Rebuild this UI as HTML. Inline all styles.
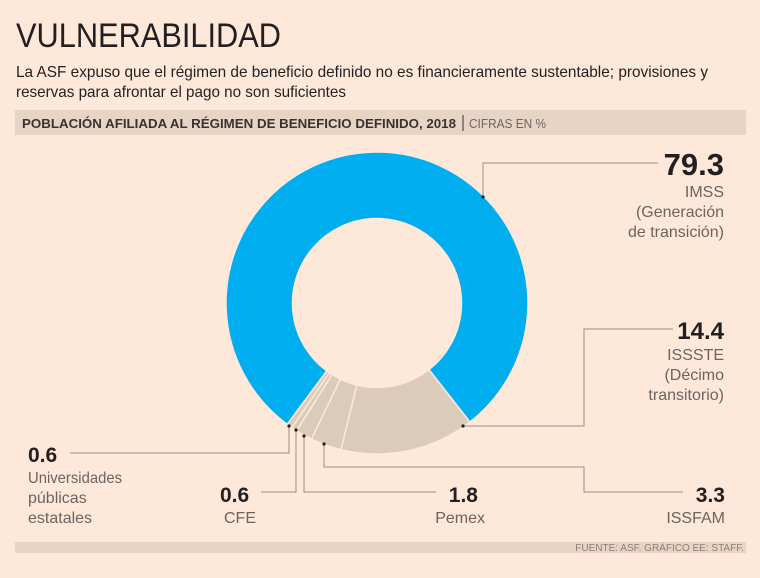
<!DOCTYPE html>
<html><head><meta charset="utf-8"><style>
html,body{margin:0;padding:0;background:#fde8d9;}
body{width:760px;height:578px;overflow:hidden;position:relative;font-family:"Liberation Sans",sans-serif;}
</style></head><body>
<svg width="760" height="578" viewBox="0 0 760 578" xmlns="http://www.w3.org/2000/svg" style="position:absolute;left:0;top:0">
<rect width="760" height="578" fill="#fde8d9"/>
<text x="16" y="47" font-size="34" fill="#231f20" font-weight="300" textLength="265" lengthAdjust="spacingAndGlyphs">VULNERABILIDAD</text>
<text x="16" y="77" font-size="16" fill="#231f20" textLength="692" lengthAdjust="spacingAndGlyphs">La ASF expuso que el régimen de beneficio definido no es financieramente sustentable; provisiones y</text>
<text x="16" y="97" font-size="16" fill="#231f20" textLength="330" lengthAdjust="spacingAndGlyphs">reservas para afrontar el pago no son suficientes</text>
<rect x="15" y="110" width="731" height="25" fill="#e8d4c4"/>
<text x="22" y="128" font-size="13" font-weight="bold" fill="#3a3232" textLength="434" lengthAdjust="spacingAndGlyphs">POBLACIÓN AFILIADA AL RÉGIMEN DE BENEFICIO DEFINIDO, 2018</text>
<line x1="463" y1="115" x2="463" y2="131" stroke="#3a3232" stroke-width="1"/>
<text x="469" y="128" font-size="13" fill="#6d6460" textLength="77" lengthAdjust="spacingAndGlyphs">CIFRAS EN %</text>
<g transform="translate(377,303)">
<path id="d" fill="#00aeef" d=""/>
</g>
<g id="donut"></g>
<g stroke="#9a8f88" stroke-width="1" fill="none">
<polyline points="483,197 483,163 658,163"/>
<polyline points="463,426 584,426 584,329 673,329"/>
<polyline points="324,444 324,467 584,467 584,492 683,492"/>
<polyline points="304,436 304,492 436,492"/>
<polyline points="296,430 296,492 261,492"/>
<polyline points="289,426 289,453 70,453"/>
</g>
<g fill="#231f20">
<circle cx="483" cy="197" r="1.6"/><circle cx="463" cy="426" r="1.6"/><circle cx="324" cy="444" r="1.6"/>
<circle cx="304" cy="436" r="1.6"/><circle cx="296" cy="430" r="1.6"/><circle cx="289" cy="426" r="1.6"/>
</g>
<g font-weight="bold" fill="#231f20">
<text x="724" y="175" font-size="31" text-anchor="end">79.3</text>
<text x="724" y="339" font-size="24" text-anchor="end">14.4</text>
<text x="725" y="502" font-size="21" text-anchor="end">3.3</text>
<text x="478" y="502" font-size="21" text-anchor="end">1.8</text>
<text x="220" y="502" font-size="21">0.6</text>
<text x="28" y="462" font-size="21">0.6</text>
</g>
<g font-size="16" fill="#6d6460">
<text x="724" y="197" text-anchor="end">IMSS</text>
<text x="724" y="217" text-anchor="end">(Generación</text>
<text x="724" y="237" text-anchor="end">de transición)</text>
<text x="724" y="360" text-anchor="end">ISSSTE</text>
<text x="724" y="380" text-anchor="end">(Décimo</text>
<text x="724" y="400" text-anchor="end">transitorio)</text>
<text x="725" y="523" text-anchor="end">ISSFAM</text>
<text x="485" y="523" text-anchor="end">Pemex</text>
<text x="224" y="523">CFE</text>
<text x="28" y="483" textLength="94" lengthAdjust="spacingAndGlyphs">Universidades</text>
<text x="28" y="503">públicas</text>
<text x="28" y="523">estatales</text>
</g>
<rect x="15" y="542" width="731" height="11" fill="#e8d4c4"/>
<text x="744" y="551" font-size="10" fill="#8a7f78" text-anchor="end">FUENTE: ASF. GRÁFICO EE: STAFF.</text>
</svg>
<script>
(function(){
var cx=377,cy=303,R=151,r=84.5,g=document.getElementById('donut'),ns='http://www.w3.org/2000/svg';
var segs=[[14.4,'#dccbbb'],[3.3,'#dccbbb'],[1.8,'#dccbbb'],[0.6,'#dccbbb'],[0.6,'#dccbbb'],[79.3,'#00aeef']];
var a=52*Math.PI/180;
function pt(rad,ang){return (cx+rad*Math.cos(ang)).toFixed(2)+','+(cy+rad*Math.sin(ang)).toFixed(2);}
segs.forEach(function(s){
 var b=a+s[0]/100*2*Math.PI,large=(b-a)>Math.PI?1:0;
 var p=document.createElementNS(ns,'path');
 p.setAttribute('d','M'+pt(R,a)+' A'+R+','+R+' 0 '+large+' 1 '+pt(R,b)+' L'+pt(r,b)+' A'+r+','+r+' 0 '+large+' 0 '+pt(r,a)+' Z');
 p.setAttribute('fill',s[1]);p.setAttribute('stroke','#fde8d9');p.setAttribute('stroke-width','1.5');
 g.appendChild(p);a=b;
});
})();
</script>
</body></html>
